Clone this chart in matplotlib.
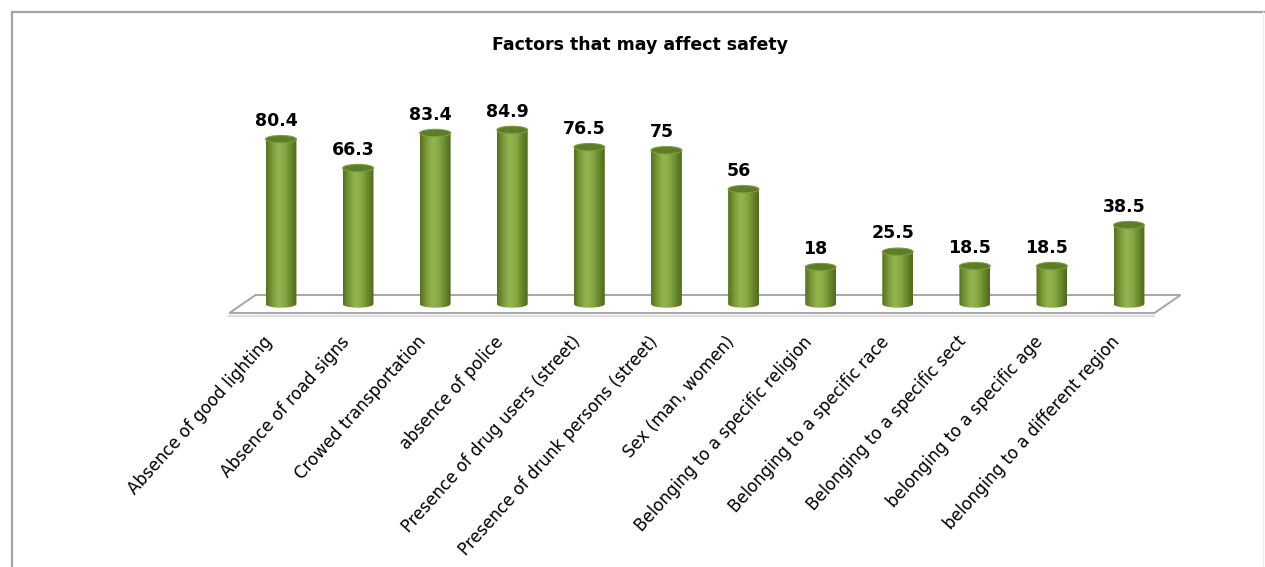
import numpy as np
import matplotlib.pyplot as plt
from matplotlib.patches import Ellipse, Polygon
from matplotlib.lines import Line2D
from matplotlib.colors import LinearSegmentedColormap

categories = [
    'Absence of good lighting',
    'Absence of road signs',
    'Crowed transportation',
    'absence of police',
    'Presence of drug users (street)',
    'Presence of drunk persons (street)',
    'Sex (man, women)',
    'Belonging to a specific religion',
    'Belonging to a specific race',
    'Belonging to a specific sect',
    'belonging to a specific age',
    'belonging to a different region',
]
values = [80.4, 66.3, 83.4, 84.9, 76.5, 75, 56, 18, 25.5, 18.5, 18.5, 38.5]
value_labels = ['80.4', '66.3', '83.4', '84.9', '76.5', '75', '56',
                '18', '25.5', '18.5', '18.5', '38.5']
title = 'Factors that may affect safety'

W, H = 1265, 567
fig = plt.figure(figsize=(W / 100, H / 100), dpi=100)

# axes laid out so one category step is ~77 px and one unit ~2.05 px
step, unit = 77.09, 2.05
xlim, ylim = (-3.0, 12.5), (-40, 100)
x0_px = 281 + xlim[0] * step
base_px = 304 - ylim[0] * unit
ax = fig.add_axes([x0_px / W, 1 - base_px / H,
                   (xlim[1] - xlim[0]) * step / W, (ylim[1] - ylim[0]) * unit / H])

n = len(values)
xs = np.arange(n)

# floor depth offsets (3d look)
dx, dy = 0.17, 4.4
floor = Polygon([(-0.5 + dx, dy), (n - 0.5 + dx, dy),
                 (n - 0.5 - dx, -dy), (-0.5 - dx, -dy)],
                closed=True, facecolor='white', edgecolor='#a6a6a6', lw=1.4, zorder=1)
ax.add_patch(floor)
ax.plot([-0.5 - dx, n - 0.5 - dx], [-dy - 1.3, -dy - 1.3], color='#dedede', lw=1.6, zorder=0.9)

# cylinders
w, eh = 0.40, 3.6
cmap = LinearSegmentedColormap.from_list(
    'cyl', ['#55701f', '#7a9a38', '#93b551', '#88aa45', '#6a8a2c', '#4f681c'])
grad = np.linspace(0, 1, 120).reshape(1, -1)
t = np.linspace(np.pi, 2 * np.pi, 50)
for x, v in zip(xs, values):
    px = np.concatenate([[x - w / 2], x + w / 2 * np.cos(t), [x + w / 2]])
    py = np.concatenate([[v], eh / 2 * np.sin(t), [v]])
    body = Polygon(np.column_stack([px, py]), closed=True, transform=ax.transData,
                   facecolor='none', edgecolor='none')
    ax.add_patch(body)
    im = ax.imshow(grad, extent=[x - w / 2, x + w / 2, -eh / 2, v], cmap=cmap,
                   aspect='auto', interpolation='bicubic', zorder=2)
    im.set_clip_path(body)
    top = Ellipse((x, v), w, eh, facecolor='#5e7d28', edgecolor='#7d9e3c',
                  lw=0.8, zorder=3)
    ax.add_patch(top)

for x, v, lab in zip(xs, values, value_labels):
    ax.text(x - 0.065, v + 6.5, lab, ha='center', va='baseline',
            fontsize=12.5, fontweight='heavy', color='black')

for x, cat in zip(xs, categories):
    ax.text(x - 0.24, -14, cat, rotation=48, ha='right', va='top',
            rotation_mode='anchor', fontsize=12, color='black')

ax.set_xlim(xlim)
ax.set_ylim(ylim)
ax.axis('off')

fig.text(640 / W, 1 - 45 / H, title, ha='center', va='center',
         fontsize=12.5, fontweight='bold')

# outer frame
fig.add_artist(Line2D([12 / W, 12 / W], [0, 1 - 12 / H], color='#a3a3a3', lw=1.6))
fig.add_artist(Line2D([12 / W, 1], [1 - 12 / H, 1 - 12 / H], color='#a3a3a3', lw=1.6))
fig.add_artist(Line2D([1263 / W, 1263 / W], [0, 1 - 12 / H], color='#ececec', lw=1.0))

fig.savefig('out.png', dpi=100)
